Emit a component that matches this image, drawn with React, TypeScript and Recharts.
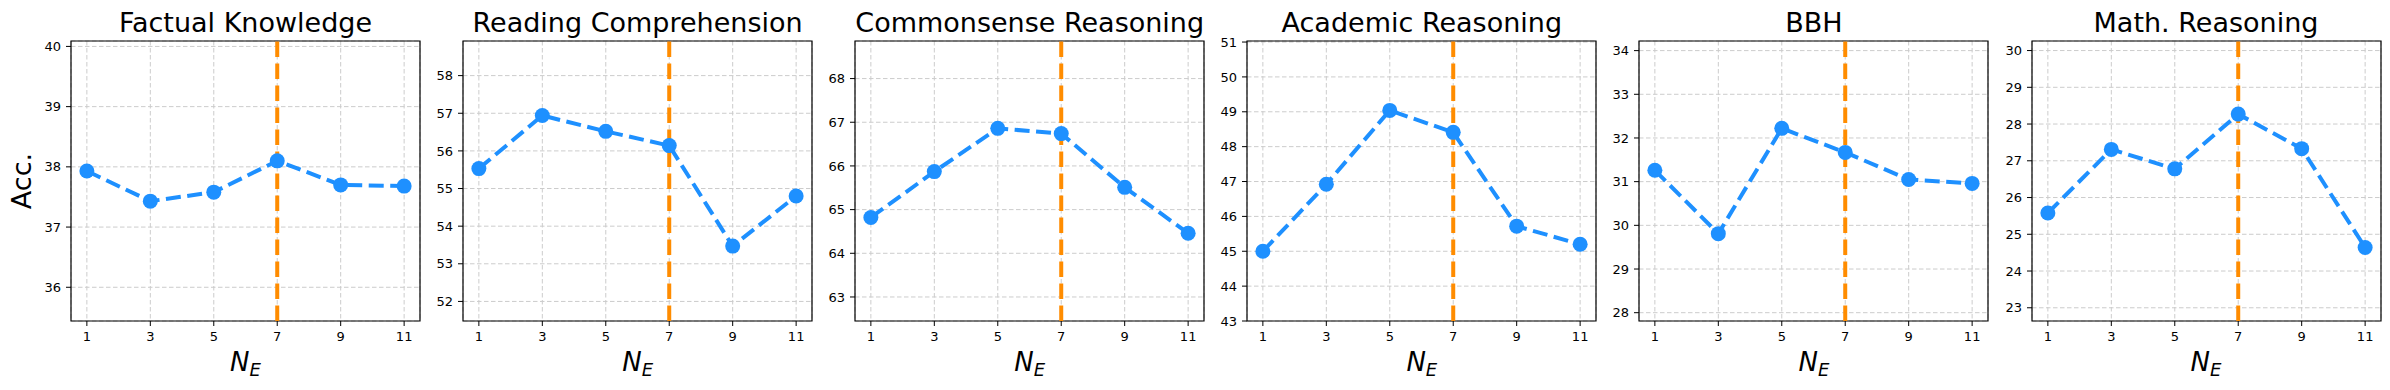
import { LineChart, Line, XAxis, YAxis, CartesianGrid, ReferenceLine, ReferenceArea } from 'recharts'

const NE = [1, 3, 5, 7, 9, 11]
const NE_RANGE = [0.5, 11.5]
const CHOSEN_NE = 7

const TITLES = [
  'Factual Knowledge',
  'Reading Comprehension',
  'Commonsense Reasoning',
  'Academic Reasoning',
  'BBH',
  'Math. Reasoning',
]

const factual = [37.93, 37.43, 37.58, 38.1, 37.7, 37.68]
const reading = [55.53, 56.94, 56.52, 56.14, 53.47, 54.8]
const commonsense = [64.82, 65.87, 66.86, 66.74, 65.51, 64.46]
const academic = [45.0, 46.92, 49.04, 48.41, 45.72, 45.2]
const bbh = [31.26, 29.81, 32.22, 31.67, 31.05, 30.96]
const math = [25.58, 27.31, 26.78, 28.27, 27.33, 24.64]

const factualTicks = [36, 37, 38, 39, 40]
const readingTicks = [52, 53, 54, 55, 56, 57, 58]
const commonsenseTicks = [63, 64, 65, 66, 67, 68]
const academicTicks = [43, 44, 45, 46, 47, 48, 49, 50, 51]
const bbhTicks = [28, 29, 30, 31, 32, 33, 34]
const mathTicks = [23, 24, 25, 26, 27, 28, 29, 30]

const factualDomain = [35.44, 40.09]
const readingDomain = [51.48, 58.92]
const commonsenseDomain = [62.45, 68.86]
const academicDomain = [43, 51.03]
const bbhDomain = [27.81, 34.22]
const mathDomain = [22.64, 30.26]

const SERIES = [factual, reading, commonsense, academic, bbh, math]
const TICKS = [factualTicks, readingTicks, commonsenseTicks, academicTicks, bbhTicks, mathTicks]
const DOMAINS = [factualDomain, readingDomain, commonsenseDomain, academicDomain, bbhDomain, mathDomain]

const FONT = '"DejaVu Sans", sans-serif'
const BLUE = '#1E90FF'
const ORANGE = '#FF8C00'

// layout of the plot boxes, in page pixels
const PLOT_LEFT0 = 71
const PLOT_STEP = 392.1
const PLOT_W = 349
const PLOT_TOP = 41
const PLOT_BOTTOM = 321
const Y_AXIS_W = 60
const CHART_W = Y_AXIS_W + PLOT_W + 20
const CHART_H = 390

function Panel({ idx }: { idx: number }) {
  const data = NE.map((n, i) => ({ n, v: SERIES[idx][i] }))
  const dom = DOMAINS[idx]
  const left = PLOT_LEFT0 + idx * PLOT_STEP - Y_AXIS_W
  const tick = { fill: '#000', fontSize: 13, fontFamily: FONT }

  return (
    <div style={{ position: 'absolute', left, top: 0, width: CHART_W, height: CHART_H }}>
      <LineChart
        width={CHART_W}
        height={CHART_H}
        data={data}
        margin={{ top: PLOT_TOP, right: 20, bottom: CHART_H - PLOT_BOTTOM - 60, left: 0 }}
      >
        <CartesianGrid stroke="#cccccc" strokeDasharray="4.5 2.5" strokeWidth={1} />
        <XAxis
          dataKey="n"
          type="number"
          domain={NE_RANGE}
          ticks={NE}
          allowDataOverflow
          height={60}
          tickSize={5}
          tickMargin={6}
          tick={tick}
          tickLine={{ stroke: '#000' }}
          axisLine={false}
        />
        <YAxis
          type="number"
          domain={dom}
          ticks={TICKS[idx]}
          allowDataOverflow
          width={Y_AXIS_W}
          tickSize={5}
          tickMargin={5}
          tick={tick}
          tickLine={{ stroke: '#000' }}
          axisLine={false}
        />
        <ReferenceArea
          x1={NE_RANGE[0]}
          x2={NE_RANGE[1]}
          y1={dom[0]}
          y2={dom[1]}
          fill="none"
          fillOpacity={0}
          stroke="#000"
          strokeWidth={1.2}
        />
        <Line
          dataKey="v"
          stroke={BLUE}
          strokeWidth={4}
          strokeDasharray="15 6.5"
          dot={{ r: 7.5, fill: BLUE, stroke: BLUE, strokeWidth: 0, strokeDasharray: '' }}
          activeDot={false}
          isAnimationActive={false}
        />
        <ReferenceLine x={CHOSEN_NE} stroke={ORANGE} strokeWidth={4} strokeDasharray="15.5 6.5" />
      </LineChart>
    </div>
  )
}

export default function App() {
  return (
    <div style={{ position: 'absolute', left: 0, top: 0, width: 2390, height: 390, background: '#fff' }}>
      {TITLES.map((_, i) => (
        <Panel key={i} idx={i} />
      ))}
      <svg
        width={2390}
        height={390}
        style={{ position: 'absolute', left: 0, top: 0, pointerEvents: 'none' }}
        fontFamily={FONT}
      >
        {TITLES.map((t, i) => {
          const cx = PLOT_LEFT0 + i * PLOT_STEP + PLOT_W / 2
          return (
            <g key={t}>
              <text x={cx} y={32} textAnchor="middle" fontSize={27} fill="#000">
                {t}
              </text>
              <text x={cx} y={371} textAnchor="middle" fontSize={26} fill="#000">
                <tspan fontStyle="italic">N</tspan>
                <tspan fontStyle="italic" fontSize={18} dy={5}>
                  E
                </tspan>
              </text>
            </g>
          )
        })}
        <text x={31} y={181} transform="rotate(-90 31 181)" textAnchor="middle" fontSize={27} fill="#000">
          Acc.
        </text>
      </svg>
    </div>
  )
}
